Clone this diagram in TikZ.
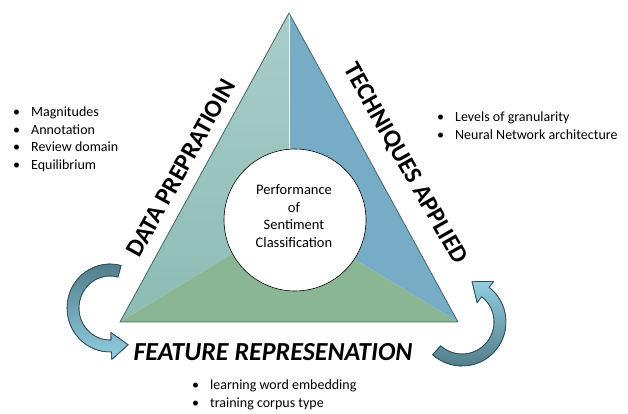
\documentclass[tikz,border=0pt]{standalone}
\usepackage{fontspec}
\setmainfont{Carlito}
\usetikzlibrary{calc}
\definecolor{leftTop}{RGB}{170,205,200}
\definecolor{leftBot}{RGB}{140,188,180}
\definecolor{rightc}{RGB}{118,172,198}
\definecolor{botc}{RGB}{138,182,148}
\definecolor{edgec}{RGB}{70,100,105}
\definecolor{arrDark}{RGB}{78,122,134}
\definecolor{arrLight}{RGB}{145,205,225}
\definecolor{arrLine}{RGB}{45,75,85}
\tikzset{
  bigtitle/.style={font=\fontsize{25}{28}\selectfont\bfseries, inner sep=0pt},
  bulletlist/.style={font=\fontsize{14}{17.5}\selectfont, inner sep=0pt, anchor=base west, align=left},
  blockarrow/.style={draw=arrLine, line width=0.6pt, line join=round},
}
\begin{document}
\begin{tikzpicture}[x=1pt,y=1pt]
\useasboundingbox (0,0) rectangle (628,414);
\coordinate (A) at (289,401);
\coordinate (BL) at (120,92);
\coordinate (BR) at (458,92);
\coordinate (O) at (289,194.7);
% regions
\shade[top color=leftTop, bottom color=leftBot] (A) -- (O) -- (BL) -- cycle;
\fill[rightc] (A) -- (O) -- (BR) -- cycle;
\fill[botc] (BL) -- (O) -- (BR) -- cycle;
\draw[white!85!leftTop, line width=0.8pt] (A) -- (O);
\draw[edgec, line width=0.8pt, line join=round] (A) -- (BL) -- (BR) -- cycle;
% centre circle
\node[circle, draw=black, line width=0.6pt, fill=white, minimum size=142pt, inner sep=0pt] (core) at (295,194) {};
\node[font=\fontsize{14.5}{17.5}\selectfont, align=center] (coretext) at (294,198) {Performance\\of\\Sentiment\\Classification};
% side titles
\node[bigtitle, rotate=61] (dataprep) at (181,246) {DATA PREPRATIOIN};
\node[bigtitle, rotate=-60.5] (tech) at (405,250) {TECHNIQUES APPLIED};
\node[bigtitle, font=\fontsize{26}{29}\selectfont\bfseries\itshape] (feat) at (273,62) {FEATURE REPRESENATION};
% bullet lists
\node[bulletlist] (leftlist) at (13,297) {\begin{tabular}[t]{@{}l@{\hspace{11pt}}l@{}}
\textbullet & Magnitudes\\ \textbullet & Annotation\\ \textbullet & Review domain\\ \textbullet & Equilibrium\end{tabular}};
\node[bulletlist] (rightlist) at (437,292) {\begin{tabular}[t]{@{}l@{\hspace{11pt}}l@{}}
\textbullet & Levels of granularity\\ \textbullet & Neural Network architecture\end{tabular}};
\node[bulletlist] (botlist) at (192,24) {\begin{tabular}[t]{@{}l@{\hspace{11pt}}l@{}}
\textbullet & learning word embedding\\ \textbullet & training corpus type\end{tabular}};
% left curved arrow
\coordinate (LC) at (110,106);
\shade[top color=arrDark, bottom color=arrLight, blockarrow]
  ($(LC)+(75:43 and 44)$) arc[start angle=75, end angle=272, x radius=43, y radius=44]
  -- ($(LC)+(272:50.5 and 51.5)$)
  -- ($(LC)+(272:37 and 38)+(4:17)$)
  -- ($(LC)+(272:23.5 and 24.5)$)
  -- ($(LC)+(272:31 and 32)$) arc[start angle=272, end angle=75, x radius=31, y radius=32]
  -- cycle;
\draw[blockarrow]
  ($(LC)+(75:43 and 44)$) arc[start angle=75, end angle=272, x radius=43, y radius=44]
  -- ($(LC)+(272:50.5 and 51.5)$)
  -- ($(LC)+(272:37 and 38)+(4:17)$)
  -- ($(LC)+(272:23.5 and 24.5)$)
  -- ($(LC)+(272:31 and 32)$) arc[start angle=272, end angle=75, x radius=31, y radius=32]
  -- cycle;
% right curved arrow
\coordinate (RC) at (462,92);
\shade[top color=arrLight, bottom color=arrDark, blockarrow]
  ($(RC)+(228:44)$) arc[start angle=228, end angle=412, radius=44]
  -- ($(RC)+(52:51.5)$)
  -- ($(RC)+(52:38)+(142:17)$)
  -- ($(RC)+(52:24.5)$)
  -- ($(RC)+(52:32)$) arc[start angle=412, end angle=228, radius=32]
  -- cycle;
\draw[blockarrow]
  ($(RC)+(228:44)$) arc[start angle=228, end angle=412, radius=44]
  -- ($(RC)+(52:51.5)$)
  -- ($(RC)+(52:38)+(142:17)$)
  -- ($(RC)+(52:24.5)$)
  -- ($(RC)+(52:32)$) arc[start angle=412, end angle=228, radius=32]
  -- cycle;
\end{tikzpicture}
\end{document}
